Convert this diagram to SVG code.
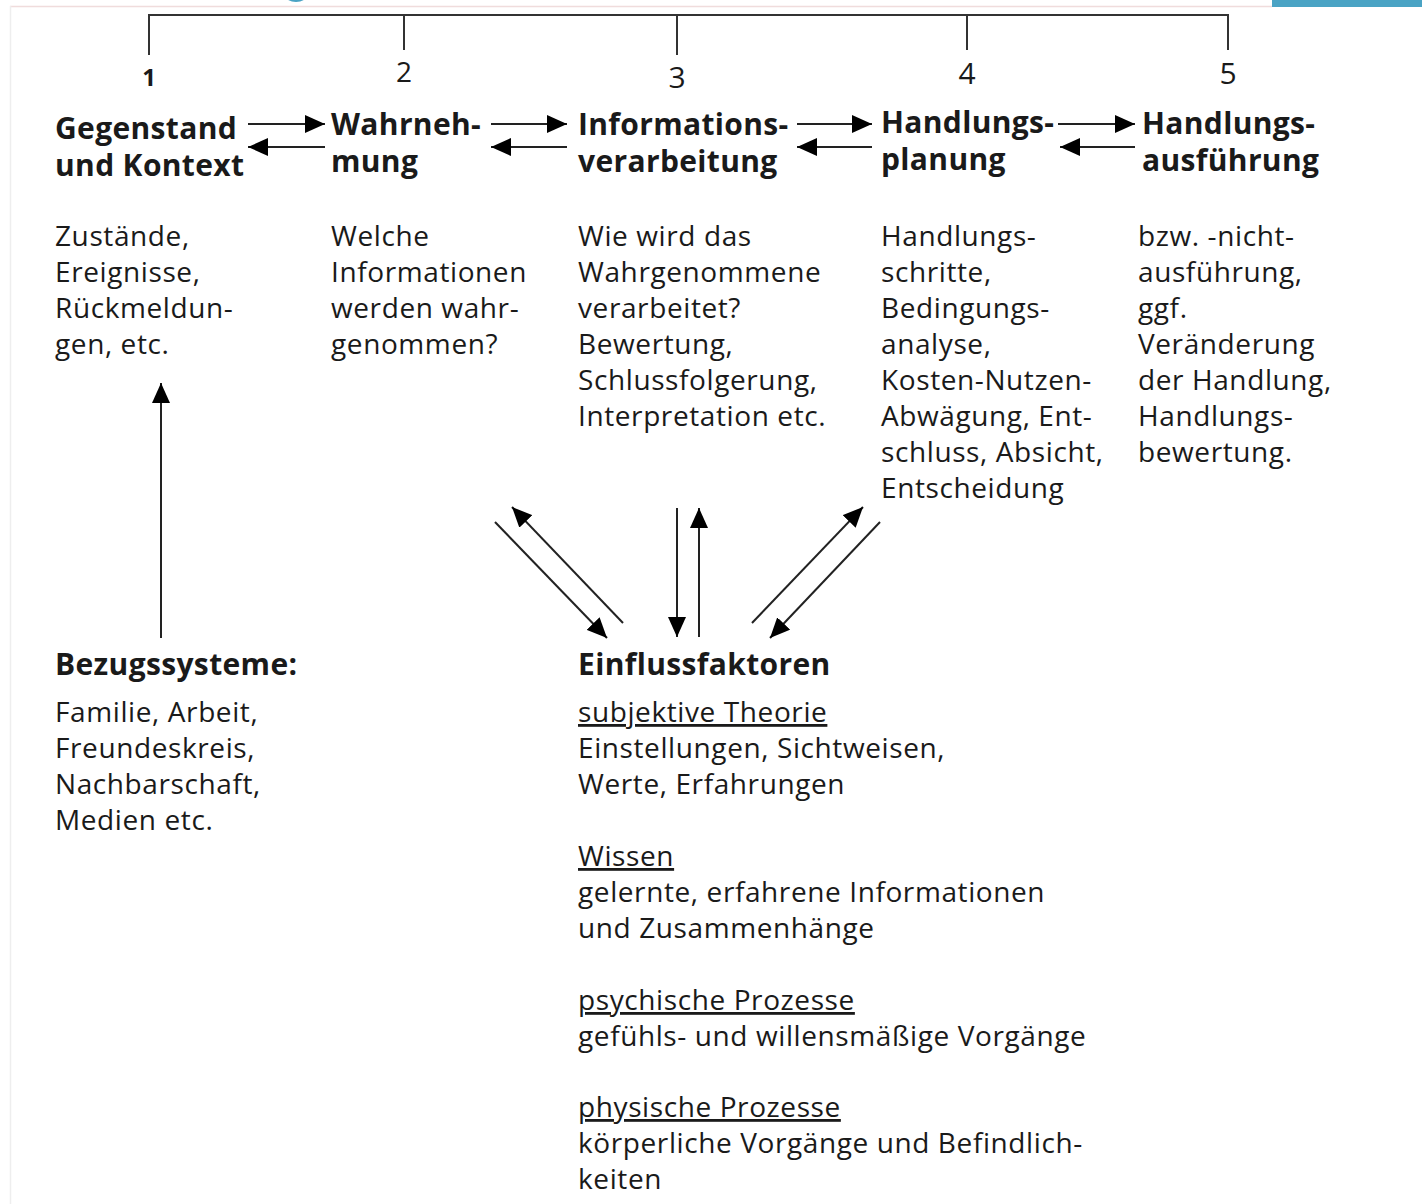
<svg xmlns="http://www.w3.org/2000/svg" width="1422" height="1204" viewBox="0 0 1422 1204">
<style>
text{font-family:"Open Sans","Noto Sans","DejaVu Sans",sans-serif;fill:#1a1a1a}
.t{font-size:30px;font-weight:bold;letter-spacing:0.35px}
.d{font-size:28px;letter-spacing:0.6px}
.n{font-size:30px}
.u{text-decoration:underline}
.ln{stroke:#333;stroke-width:2;fill:none}
.ar{stroke:#222;stroke-width:2;fill:none;marker-end:url(#ah)}
</style>
<defs>
<marker id="ah" viewBox="0 0 20 18" refX="20" refY="9" markerWidth="20" markerHeight="18" markerUnits="userSpaceOnUse" orient="auto">
<path d="M0,0 L20,9 L0,18 Z" fill="#000"/>
</marker>
</defs>
<rect width="1422" height="1204" fill="#fff"/>
<g id="page-frame">
<line x1="10" y1="6.5" x2="1272" y2="6.5" stroke="#f0dcdc" stroke-width="1.5"/>
<line x1="10.5" y1="6" x2="10.5" y2="1204" stroke="#eeeeee" stroke-width="1.5"/>
<rect x="1272" y="0" width="150" height="7" fill="#4aa3c4"/>
<circle cx="296" cy="-14" r="16" fill="#4aa3c4"/>
</g>
<g id="bracket">
<path class="ln" d="M149,55 V15 H1228 V50 M404,15 V50 M677,15 V55 M967,15 V50"/>
<text class="n" x="149" y="86" text-anchor="middle" style="font-size:24px;font-weight:bold">1</text>
<text class="n" x="404" y="82" text-anchor="middle" style="font-size:28px">2</text>
<text class="n" x="677" y="88" text-anchor="middle">3</text>
<text class="n" x="967" y="84" text-anchor="middle">4</text>
<text class="n" x="1228" y="84" text-anchor="middle">5</text>
</g>
<g id="node-gegenstand">
<text class="t" x="55" y="139">Gegenstand</text>
<text class="t" x="55" y="176">und Kontext</text>
<text class="d" x="55" y="246">Zustände,</text>
<text class="d" x="55" y="282">Ereignisse,</text>
<text class="d" x="55" y="318">Rückmeldun-</text>
<text class="d" x="55" y="354">gen, etc.</text>
</g>
<g id="node-wahrnehmung">
<text class="t" x="331" y="135">Wahrneh-</text>
<text class="t" x="331" y="172">mung</text>
<text class="d" x="331" y="246">Welche</text>
<text class="d" x="331" y="282">Informationen</text>
<text class="d" x="331" y="318">werden wahr-</text>
<text class="d" x="331" y="354">genommen?</text>
</g>
<g id="node-informationsverarbeitung">
<text class="t" x="578" y="135">Informations-</text>
<text class="t" x="578" y="172">verarbeitung</text>
<text class="d" x="578" y="246">Wie wird das</text>
<text class="d" x="578" y="282">Wahrgenommene</text>
<text class="d" x="578" y="318">verarbeitet?</text>
<text class="d" x="578" y="354">Bewertung,</text>
<text class="d" x="578" y="390">Schlussfolgerung,</text>
<text class="d" x="578" y="426">Interpretation etc.</text>
</g>
<g id="node-handlungsplanung">
<text class="t" x="881" y="133">Handlungs-</text>
<text class="t" x="881" y="170">planung</text>
<text class="d" x="881" y="246">Handlungs-</text>
<text class="d" x="881" y="282">schritte,</text>
<text class="d" x="881" y="318">Bedingungs-</text>
<text class="d" x="881" y="354">analyse,</text>
<text class="d" x="881" y="390">Kosten-Nutzen-</text>
<text class="d" x="881" y="426">Abwägung, Ent-</text>
<text class="d" x="881" y="462">schluss, Absicht,</text>
<text class="d" x="881" y="498">Entscheidung</text>
</g>
<g id="node-handlungsausfuehrung">
<text class="t" x="1142" y="134">Handlungs-</text>
<text class="t" x="1142" y="171">ausführung</text>
<text class="d" x="1138" y="246">bzw. -nicht-</text>
<text class="d" x="1138" y="282">ausführung,</text>
<text class="d" x="1138" y="318">ggf.</text>
<text class="d" x="1138" y="354">Veränderung</text>
<text class="d" x="1138" y="390">der Handlung,</text>
<text class="d" x="1138" y="426">Handlungs-</text>
<text class="d" x="1138" y="462">bewertung.</text>
</g>
<g id="node-bezugssysteme">
<text class="t" x="55" y="675">Bezugssysteme:</text>
<text class="d" x="55" y="722">Familie, Arbeit,</text>
<text class="d" x="55" y="758">Freundeskreis,</text>
<text class="d" x="55" y="794">Nachbarschaft,</text>
<text class="d" x="55" y="830">Medien etc.</text>
</g>
<g id="node-einflussfaktoren">
<text class="t" x="578" y="675">Einflussfaktoren</text>
<text class="d u" x="578" y="722">subjektive Theorie</text>
<text class="d" x="578" y="758">Einstellungen, Sichtweisen,</text>
<text class="d" x="578" y="794">Werte, Erfahrungen</text>
<text class="d u" x="578" y="866">Wissen</text>
<text class="d" x="578" y="902">gelernte, erfahrene Informationen</text>
<text class="d" x="578" y="938">und Zusammenhänge</text>
<text class="d u" x="578" y="1010">psychische Prozesse</text>
<text class="d" x="578" y="1046">gefühls- und willensmäßige Vorgänge</text>
<text class="d u" x="578" y="1117">physische Prozesse</text>
<text class="d" x="578" y="1153">körperliche Vorgänge und Befindlich-</text>
<text class="d" x="578" y="1189">keiten</text>
</g>
<g id="connectors">
<line class="ar" x1="248" y1="124" x2="325" y2="124"/>
<line class="ar" x1="325" y1="147" x2="248" y2="147"/>
<line class="ar" x1="491" y1="124" x2="567" y2="124"/>
<line class="ar" x1="567" y1="147" x2="491" y2="147"/>
<line class="ar" x1="797" y1="124" x2="872" y2="124"/>
<line class="ar" x1="872" y1="147" x2="797" y2="147"/>
<line class="ar" x1="1058" y1="124" x2="1135" y2="124"/>
<line class="ar" x1="1135" y1="147" x2="1060" y2="147"/>
<line class="ar" x1="161" y1="638" x2="161" y2="383"/>
<line class="ar" x1="495" y1="522" x2="607" y2="638"/>
<line class="ar" x1="623" y1="623" x2="512" y2="507"/>
<line class="ar" x1="677" y1="508" x2="677" y2="637"/>
<line class="ar" x1="699" y1="637" x2="699" y2="508"/>
<line class="ar" x1="752" y1="623" x2="863" y2="507"/>
<line class="ar" x1="880" y1="522" x2="770" y2="638"/>
</g>
</svg>
